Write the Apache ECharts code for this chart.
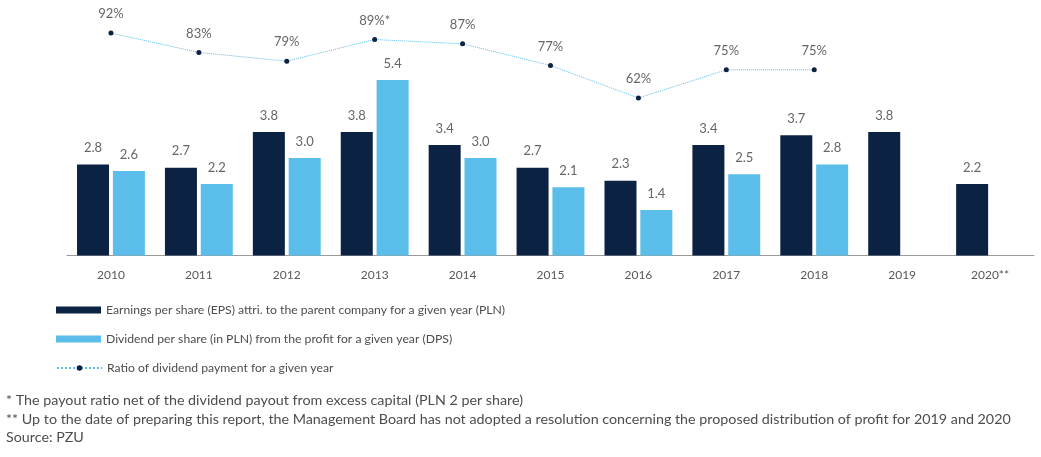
<!DOCTYPE html>
<html><head><meta charset="utf-8">
<script src="https://cdn.jsdelivr.net/npm/echarts@6/dist/echarts.min.js"></script>
<style>html,body{margin:0;padding:0;background:#fff}#c{width:1041px;height:457px}</style>
</head><body><div id="c"></div>
<script>
const categories = ['2010','2011','2012','2013','2014','2015','2016','2017','2018','2019','2020**'];
const epsValues = [2.8, 2.7, 3.8, 3.8, 3.4, 2.7, 2.3, 3.4, 3.7, 3.8, 2.2];
const dpsValues = [2.6, 2.2, 3.0, 5.4, 3.0, 2.1, 1.4, 2.5, 2.8, null, null];
const ratioValues = [92, 83, 79, 89, 87, 77, 62, 75, 75, null, null];
const ratioNotes = ['', '', '', '*', '', '', '', '', '', '', ''];
const seriesNames = [
  'Earnings per share (EPS) attri. to the parent company for a given year (PLN)',
  'Dividend per share (in PLN) from the profit for a given year (DPS)',
  'Ratio of dividend payment for a given year'
];
const footnotes = [
  '* The payout ratio net of the dividend payout from excess capital (PLN 2 per share)',
  '** Up to the date of preparing this report, the Management Board has not adopted a resolution concerning the proposed distribution of profit for 2019 and 2020',
  'Source: PZU'
];

const FONT = "Lato, 'Noto Sans', sans-serif";
const DARK = '#0b2242';
const LIGHT = '#5bbde9';
const TXT = '#595959';

const chart = echarts.init(document.getElementById('c'), null, {renderer: 'canvas'});
const legendBase = {
  orient: 'horizontal', left: 56, padding: 0, itemWidth: 45, itemHeight: 7, itemGap: 5,
  textStyle: {fontFamily: FONT, fontSize: 12.2, color: '#4d4d4d', lineHeight: 14},
  selectedMode: false
};
chart.setOption({
  animation: false,
  textStyle: {fontFamily: FONT},
  grid: {left: 67, right: 7, top: 20, bottom: 201.5, containLabel: false},
  xAxis: {
    type: 'category', data: categories,
    axisLine: {lineStyle: {color: '#9a9a9a', width: 1}},
    axisTick: {show: false},
    axisLabel: {fontFamily: FONT, fontSize: 12, color: TXT, margin: 14}
  },
  yAxis: [
    {type: 'value', min: 0, max: 7.246, show: false, splitLine: {show: false}},
    {type: 'value', min: -10.7, max: 98, show: false, splitLine: {show: false}}
  ],
  legend: [
    Object.assign({}, legendBase, {top: 303, data: [{name: seriesNames[0], icon: 'rect'}]}),
    Object.assign({}, legendBase, {top: 332, data: [{name: seriesNames[1], icon: 'rect'}]}),
    Object.assign({}, legendBase, {top: 361, data: [{name: seriesNames[2]}]})
  ],
  series: [
    {
      name: seriesNames[0], type: 'bar', data: epsValues, yAxisIndex: 0,
      barWidth: 32, barGap: '12%',
      itemStyle: {color: DARK},
      label: {show: true, position: 'top', distance: 10, color: '#666', fontSize: 13, fontFamily: FONT,
        formatter: p => p.value.toFixed(1)}
    },
    {
      name: seriesNames[1], type: 'bar', data: dpsValues, yAxisIndex: 0,
      barWidth: 32, barGap: '12%',
      itemStyle: {color: LIGHT},
      label: {show: true, position: 'top', distance: 10, color: '#666', fontSize: 13, fontFamily: FONT,
        formatter: p => p.value == null ? '' : p.value.toFixed(1)}
    },
    {
      name: seriesNames[2], type: 'line', data: ratioValues, yAxisIndex: 1,
      symbol: 'circle', symbolSize: 5, connectNulls: false,
      itemStyle: {color: DARK},
      lineStyle: {color: LIGHT, width: 1, type: 'dotted'},
      label: {show: true, position: 'top', distance: 10, color: '#666', fontSize: 13, fontFamily: FONT,
        formatter: p => p.value + '%' + ratioNotes[p.dataIndex]}
    }
  ],
  graphic: footnotes.map((t, i) => ({
    type: 'text', left: 6, top: [393, 412, 430][i],
    style: {text: t, fill: '#4d4d4d', font: "14.3px " + FONT}
  }))
});
</script></body></html>
